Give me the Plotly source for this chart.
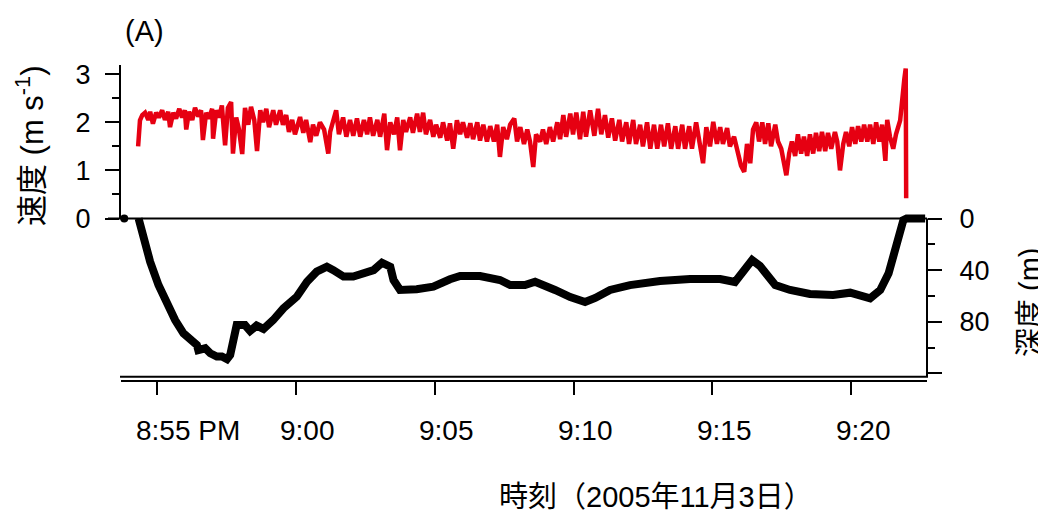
import pandas as pd
import plotly.graph_objects as go

REF_TIME = pd.Timestamp("2005-11-03 20:55:00")

# ---- speed (m/s), times in seconds after 20:55:00 ----
speed_t_s = [
    -41, -39, -37, -32, -26, -19, -15, -9, -2, 4,
    11, 17, 24, 28, 35, 41, 48, 54, 60, 63,
    69, 76, 82, 89, 95, 99, 106, 112, 119, 121,
    128, 134, 140, 147, 153, 160, 164, 171, 177, 184,
    190, 197, 203, 210, 216, 223, 229, 236, 242, 251,
    257, 266, 272, 279, 285, 292, 298, 309, 316, 322,
    331, 337, 344, 352, 361, 370, 374, 387, 393, 402,
    409, 417, 424, 432, 439, 447, 454, 460, 467, 476,
    482, 491, 497, 504, 512, 519, 525, 532, 538, 547,
    553, 562, 568, 575, 581, 590, 597, 603, 612, 618,
    627, 633, 640, 648, 655, 661, 670, 677, 683, 692,
    698, 705, 713, 720, 728, 735, 741, 748, 756, 763,
    772, 778, 785, 793, 800, 806, 813, 819, 828, 834,
    841, 849, 856, 865, 871, 878, 884, 893, 899, 906,
    914, 921, 927, 936, 945, 953, 960, 968, 975, 983,
    990, 999, 1005, 1014, 1020, 1029, 1035, 1044, 1050, 1059,
    1066, 1074, 1081, 1089, 1096, 1104, 1111, 1120, 1126, 1135,
    1141, 1150, 1156, 1165, 1174, 1180, 1187, 1195, 1202, 1210,
    1217, 1223, 1232, 1238, 1247, 1254, 1262, 1269, 1275, 1282,
    1288, 1295, 1301, 1308, 1314, 1321, 1327, 1336, 1342, 1349,
    1360, 1366, 1372, 1379, 1385, 1392, 1398, 1405, 1411, 1418,
    1424, 1431, 1437, 1444, 1450, 1457, 1465, 1470, 1476, 1483,
    1489, 1496, 1502, 1509, 1515, 1522, 1528, 1535, 1541, 1548,
    1554, 1561, 1567, 1574, 1578, 1584, 1591, 1597, 1606, 1615,
    1618, 1619,
]
speed_ms = [
    1.50, 1.85, 2.04, 2.15, 2.20, 2.05, 2.22, 1.97, 2.20, 2.10,
    2.25, 2.05, 2.22, 1.90, 2.20, 2.08, 2.28, 2.10, 2.25, 1.85,
    2.22, 2.05, 2.30, 2.12, 2.25, 1.63, 2.20, 2.08, 2.28, 1.66,
    2.25, 2.10, 2.35, 1.52, 2.30, 2.42, 1.35, 2.10, 1.85, 1.34,
    2.30, 1.95, 2.32, 2.05, 1.40, 2.25, 2.00, 2.28, 1.90, 2.25,
    1.95, 2.25, 1.95, 2.15, 1.80, 2.05, 1.75, 2.11, 1.78, 2.05,
    1.59, 1.95, 1.72, 2.00, 1.85, 1.35, 1.80, 2.25, 1.75, 2.10,
    1.70, 2.05, 1.72, 2.08, 1.70, 2.05, 1.75, 2.10, 1.72, 2.05,
    1.70, 2.18, 1.42, 2.00, 1.75, 2.10, 1.42, 2.05, 1.80, 2.10,
    1.78, 2.18, 1.80, 2.20, 1.75, 2.05, 1.70, 1.95, 1.68, 2.00,
    1.62, 1.98, 1.45, 2.04, 1.75, 2.00, 1.68, 1.98, 1.65, 2.00,
    1.62, 1.95, 1.60, 1.92, 1.60, 1.95, 1.28, 1.90, 1.65, 1.95,
    2.08, 1.60, 1.90, 1.55, 1.85, 1.60, 1.07, 1.75, 1.60, 1.85,
    1.55, 1.90, 1.60, 2.00, 1.65, 2.15, 1.70, 2.18, 1.75, 2.20,
    1.65, 2.22, 1.70, 2.25, 1.72, 2.28, 1.75, 2.15, 1.68, 2.08,
    1.62, 2.05, 1.60, 2.00, 1.55, 2.05, 1.55, 1.95, 1.50, 2.00,
    1.45, 1.95, 1.45, 1.95, 1.50, 1.98, 1.45, 1.92, 1.45, 1.95,
    1.45, 1.92, 1.45, 2.00, 1.50, 1.15, 1.90, 1.50, 2.01, 1.55,
    1.90, 1.55, 1.88, 1.50, 1.70, 1.40, 1.10, 0.97, 1.55, 1.15,
    1.85, 2.00, 1.60, 2.00, 1.55, 1.98, 1.50, 1.95, 1.60, 1.45,
    0.90, 1.35, 1.60, 1.30, 1.75, 1.35, 1.70, 1.30, 1.75, 1.35,
    1.78, 1.40, 1.80, 1.40, 1.78, 1.45, 1.80, 1.60, 1.00, 1.55,
    1.80, 1.50, 1.90, 1.55, 1.92, 1.60, 1.95, 1.60, 1.95, 1.55,
    2.00, 1.60, 1.95, 1.20, 2.05, 1.70, 1.45, 1.75, 2.04, 2.90,
    3.12, 0.42,
]

# ---- depth (m), times in seconds after 20:55:00 ----
depth_t_s = [
    -40, -30, -15, 3, 21, 39, 57, 71, 86, 89,
    104, 115, 129, 140, 151, 158, 165, 172, 190, 201,
    215, 230, 251, 273, 302, 324, 345, 367, 381, 403,
    424, 453, 468, 486, 504, 511, 525, 561, 597, 633,
    655, 698, 741, 763, 795, 817, 839, 860, 893, 925,
    947, 979, 1022, 1087, 1152, 1217, 1249, 1271, 1286, 1303,
    1336, 1368, 1390, 1411, 1461, 1498, 1541, 1563, 1581, 1599,
    1613, 1620, 1660,
]
depth_m = [
    0, 15.4, 33.5, 51.6, 67, 78.7, 89, 92.9, 98, 102,
    100.6, 104.5, 107, 107, 109, 105.8, 90.3, 82.6, 82.6, 87.2,
    83, 85.6, 78.7, 69.6, 60.6, 49, 41.2, 37.4, 40, 45,
    45, 41.2, 40, 34.3, 37.4, 47.7, 55.4, 54.9, 52.9, 47.1,
    44.6, 44.6, 47.7, 51.6, 51.6, 49, 51.6, 55.4, 60.9, 64.7,
    61.6, 55.4, 51.6, 48.4, 46.9, 46.9, 49.2, 38.4, 32.2, 36.8,
    51.6, 55.4, 57, 58.5, 59.3, 57.5, 61.9, 55.4, 42.5, 21.9,
    1.2, 0, 0,
]
dot_t_s = [-71]
dot_m = [0]

x_tick_times = ["20:55:00", "21:00:00", "21:05:00", "21:10:00", "21:15:00", "21:20:00"]
x_tick_labels = ["8:55 PM", "9:00", "9:05", "9:10", "9:15", "9:20"]
speed_ticks = [0, 1, 2, 3]
depth_ticks = [0, 40, 80, 120]
depth_tick_labels = ["0", "40", "80", " "]
x_range = ["2005-11-03 20:53:42", "2005-11-03 21:22:44"]


def to_time(secs):
    return [REF_TIME + pd.Timedelta(seconds=s) for s in secs]


# ---- geometry (page pixels; the page body has an 8 px margin) ----
PAGE_W, PAGE_H = 1046, 516
OFF = 8
W, H = PAGE_W - OFF, PAGE_H - OFF
L, R, T, B = 121, 927, 65, 381
PW, PH = R - L, B - T
Y0 = 218.5          # y pixel of the shared zero line
SPEED_PX = 48.1     # px per m/s
DEPTH_PX = 1.29     # px per m
DEPTH_BOT = 376.7   # bottom of depth axis
DEPTH_TOP_PAD = 5   # extra room so the thick line at 0 m is not clipped


def py(p):
    return (B - p) / PH


def px(p):
    return (p - L) / PW


FONT = "Liberation Sans, Arial, Noto Sans CJK JP, sans-serif"
RED = "#e60012"

fig = go.Figure()
fig.add_trace(go.Scatter(
    x=to_time(speed_t_s), y=speed_ms, mode="lines",
    line=dict(color=RED, width=4.5), xaxis="x", yaxis="y", showlegend=False,
))
fig.add_trace(go.Scatter(
    x=to_time(depth_t_s), y=depth_m, mode="lines",
    line=dict(color="black", width=8), xaxis="x", yaxis="y2", showlegend=False,
))
fig.add_trace(go.Scatter(
    x=to_time(dot_t_s), y=dot_m, mode="markers", cliponaxis=False,
    marker=dict(color="black", size=8), xaxis="x", yaxis="y2", showlegend=False,
))

depth_top = -DEPTH_TOP_PAD / DEPTH_PX
depth_bot = (DEPTH_BOT - Y0) / DEPTH_PX

fig.update_layout(
    width=W, height=H,
    margin=dict(l=L - OFF, r=PAGE_W - R, t=T - OFF, b=PAGE_H - B, pad=0),
    paper_bgcolor="white", plot_bgcolor="white",
    font=dict(family=FONT, color="black"),
    xaxis=dict(
        type="date", range=x_range, anchor="free", position=0,
        showline=True, linecolor="black", linewidth=2,
        ticks="outside", ticklen=13, tickwidth=2, tickcolor="black",
        tickmode="array", tickvals=[f"2005-11-03 {t}" for t in x_tick_times],
        showticklabels=False, showgrid=False, zeroline=False,
    ),
    yaxis=dict(
        domain=[py(Y0), 1], range=[0, (Y0 - T) / SPEED_PX], anchor="x", side="left",
        showline=True, linecolor="black", linewidth=2,
        ticks="outside", ticklen=14, tickwidth=2, tickcolor="black",
        tickmode="array", tickvals=speed_ticks,
        minor=dict(dtick=0.5, tick0=0, ticks="outside", ticklen=7, tickwidth=2, tickcolor="black"),
        tickfont=dict(size=27, family=FONT), ticklabelstandoff=9,
        showgrid=False, zeroline=False,
    ),
    yaxis2=dict(
        domain=[py(DEPTH_BOT), py(Y0 - DEPTH_TOP_PAD)], range=[depth_bot, depth_top],
        anchor="x", side="right",
        showline=False,
        ticks="outside", ticklen=14, tickwidth=2, tickcolor="black",
        tickmode="array", tickvals=depth_ticks, ticktext=depth_tick_labels,
        minor=dict(dtick=20, tick0=0, ticks="outside", ticklen=7, tickwidth=2, tickcolor="black"),
        tickfont=dict(size=27, family=FONT), ticklabelstandoff=12,
        showgrid=False, zeroline=False,
    ),
    shapes=[
        # shared zero line
        dict(type="line", xref="paper", yref="paper", x0=px(108), x1=1, y0=py(Y0), y1=py(Y0),
             line=dict(color="black", width=2)),
        # depth axis spine
        dict(type="line", xref="paper", yref="paper", x0=1, x1=1, y0=py(Y0), y1=py(DEPTH_BOT),
             line=dict(color="black", width=2)),
        # second (upper) bottom rule
        dict(type="line", xref="paper", yref="paper", x0=px(120), x1=px(928),
             y0=py(DEPTH_BOT), y1=py(DEPTH_BOT), line=dict(color="black", width=2)),
    ],
)

annotations = []
for tv, tl in zip(x_tick_times, x_tick_labels):
    first = tl.endswith("PM")
    annotations.append(dict(
        x=f"2005-11-03 {tv}", xref="x", y=py(430), yref="paper",
        text=tl, showarrow=False, xanchor="left" if first else "center",
        xshift=-23 if first else 12, yanchor="middle",
        font=dict(size=28, family=FONT),
    ))
annotations += [
    dict(x=px(123), y=py(31), xref="paper", yref="paper", text="(A)", showarrow=False,
         xanchor="left", yanchor="middle", font=dict(size=29, family=FONT)),
    dict(x=px(30), y=py(146), xref="paper", yref="paper", text="速度 (m s<sup>-1</sup>)",
         showarrow=False, textangle=-90, xanchor="center", yanchor="middle",
         font=dict(size=31, family=FONT)),
    dict(x=px(1030), y=py(302), xref="paper", yref="paper", text="深度 (m)",
         showarrow=False, textangle=-90, xanchor="center", yanchor="middle",
         font=dict(size=29, family=FONT)),
    dict(x=px(497), y=py(497), xref="paper", yref="paper", text="時刻（2005年11月3日）",
         showarrow=False, xanchor="left", yanchor="middle",
         font=dict(size=29, family=FONT)),
]
fig.update_layout(annotations=annotations)

fig.write_html("out.html")
